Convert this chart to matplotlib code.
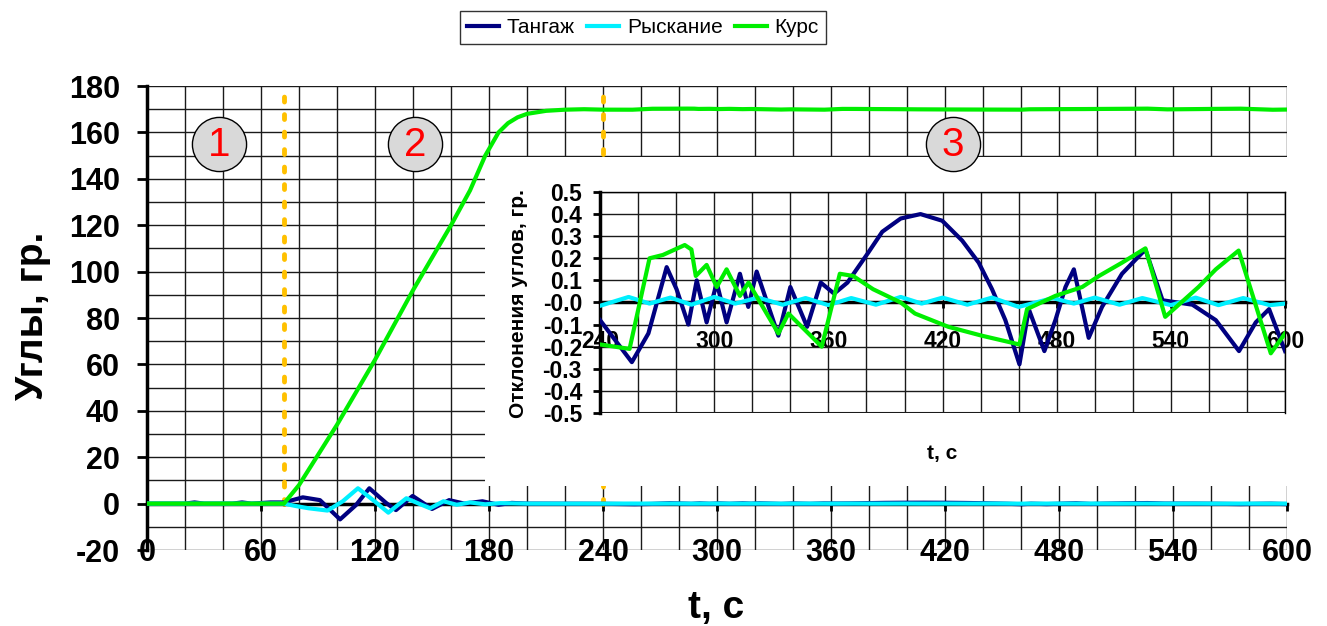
import numpy as np
import matplotlib
matplotlib.use("Agg")
import matplotlib.pyplot as plt
import matplotlib.ticker as mtick
from matplotlib.patches import Rectangle

plt.rcParams["font.family"] = ["Liberation Sans", "DejaVu Sans"]
plt.rcParams["axes.unicode_minus"] = False

#%% данные, участок 0-240 с (градусы)
t_pitch_main = [0, 20, 25, 30, 45, 50, 55, 65, 72, 82, 91, 101.6, 110, 117, 125.8, 131,
                139.8, 150, 159, 167, 176.5, 185, 192, 200, 240]
pitch_main = [0, 0, 0.5, 0, 0, 0.5, 0, 0.5, 0.5, 2.7, 1.5, -6.8, -0.6, 6.6, 0.3, -2.8,
              3.3, -2.3, 1.5, 0, 1, -0.5, 0.3, 0, 0]

t_yaw_main = [0, 72, 78, 85, 95, 103, 111, 119, 127, 136.5, 143, 149, 156, 163, 170,
              178, 186, 200, 240]
yaw_main = [0, 0, -1, -2, -3, 1, 6.6, 1.5, -3.9, 2.3, 0, -2, 1, -0.5, 0.5,
            -0.3, 0.2, 0, 0]

t_head_main = [0, 72, 80, 90, 100, 110, 120, 130, 140, 150, 160, 170, 178, 185, 190,
               195, 200, 210, 220, 230, 240]
head_main = [0, 0, 8, 21, 34, 48, 62, 77, 92, 106, 120, 135, 150, 160, 164,
             166.5, 168, 169.3, 169.8, 170, 170]
head_level = 170

#%% отклонения, участок 240-600 с
t_pitch_dev = [240, 256.7, 265.4, 275, 280.2, 286.4, 290.8, 296, 301.3, 306.5, 313.5,
               317.9, 322.3, 333.7, 340, 348.8, 356, 363, 370, 380.5, 388.3, 398,
               408.4, 419.8, 430.3, 439, 446, 453, 460.4, 465.3, 473.5, 479.3, 484.6,
               489, 496.8, 503.8, 514.3, 526.6, 535.6, 551.3, 563.6, 575.8, 584.6,
               591.6, 600]
pitch_dev = [-0.08, -0.27, -0.14, 0.16, 0.06, -0.10, 0.10, -0.09, 0.09, -0.09, 0.13,
             -0.02, 0.14, -0.15, 0.07, -0.11, 0.09, 0.04, 0.09, 0.22, 0.32, 0.38,
             0.40, 0.37, 0.28, 0.18, 0.06, -0.08, -0.28, -0.03, -0.22, -0.08, 0.07,
             0.15, -0.16, -0.02, 0.13, 0.24, 0.01, -0.01, -0.08, -0.22, -0.09,
             -0.03, -0.22]

t_yaw_dev = [240, 255, 266, 277, 288, 300, 311, 323, 336, 348, 360, 372, 385, 398,
             409, 420, 433, 446, 460, 478, 489, 500, 513, 525, 540, 553, 565, 578,
             592, 600]
yaw_dev = [-0.015, 0.025, -0.005, 0.022, -0.01, 0.025, -0.005, 0.022, -0.01, 0.02,
           -0.012, 0.02, -0.01, 0.025, -0.005, 0.022, -0.01, 0.022, -0.02, 0.02,
           -0.005, 0.022, -0.01, 0.02, -0.012, 0.022, -0.012, 0.02, -0.012, -0.005]

t_head_dev = [240, 255.5, 266, 273, 284.5, 288, 290.3, 296, 301.3, 306.5, 313.5, 318,
              333.7, 339, 356.5, 366, 373, 383.5, 398, 405.5, 423, 440.5, 460.4,
              464.4, 479.3, 493.4, 502.2, 514.3, 526.6, 537, 554.5, 563.6, 575.6,
              592.5, 600]
head_dev = [-0.19, -0.21, 0.20, 0.215, 0.26, 0.24, 0.12, 0.17, 0.07, 0.15, 0.03, 0.09,
            -0.14, -0.05, -0.20, 0.13, 0.12, 0.06, 0.0, -0.05, -0.11, -0.15, -0.19,
            -0.03, 0.03, 0.07, 0.12, 0.18, 0.245, -0.065, 0.07, 0.15, 0.235,
            -0.23, -0.14]

phase_bounds = [72, 240]
phase_labels = ["1", "2", "3"]
phase_t = [38, 141, 424]
phase_y = [155, 155, 155]

c_pitch = "#000080"
c_yaw = "#00F0FF"
c_head = "#00EE00"
c_phase = "#FFC000"

#%% основной график
fig = plt.figure(figsize = (13.27, 6.26), dpi = 100)
ax = fig.add_axes([0.1108, 0.1214, 0.8591, 0.7412])
ax.set_axisbelow(True)

pitch_full = np.r_[pitch_main[:-1], pitch_dev]
yaw_full = np.r_[yaw_main[:-1], yaw_dev]
head_full = np.r_[head_main[:-1], head_level + np.array(head_dev)]

l1, = ax.plot(np.r_[t_pitch_main[:-1], t_pitch_dev], pitch_full, color = c_pitch,
              lw = 3, zorder = 4, label = "Тангаж")
l2, = ax.plot(np.r_[t_yaw_main[:-1], t_yaw_dev], yaw_full, color = c_yaw,
              lw = 3, zorder = 4, label = "Рыскание")
l3, = ax.plot(np.r_[t_head_main[:-1], t_head_dev], head_full, color = c_head,
              lw = 3, zorder = 4, label = "Курс")

for tb in phase_bounds:
    ax.plot([tb, tb], [0, 180], color = c_phase, lw = 3.5, dashes = (1, 2.6),
            dash_capstyle = "round", zorder = 0.8)

# белая подложка под врезку
ax.add_patch(Rectangle((0.2965, 0.138), 0.71, 0.709, transform = ax.transAxes,
                       facecolor = "white", edgecolor = "none", zorder = 1,
                       clip_on = False))

for lab, tx, ty in zip(phase_labels, phase_t, phase_y):
    ax.plot(tx, ty, "o", ms = 39, mfc = "#D9D9D9", mec = "black", mew = 1,
            zorder = 5, clip_on = False)
    ax.text(tx, ty - 0.5, lab, color = "red", fontsize = 29, ha = "center",
            va = "center", zorder = 6)

ax.set_xlim(0, 600)
ax.set_ylim(-20, 180)
ax.set_xticks(range(0, 601, 60))
ax.xaxis.set_minor_locator(mtick.MultipleLocator(20))
ax.set_yticks(range(-20, 181, 20))
ax.yaxis.set_minor_locator(mtick.MultipleLocator(10))
ax.grid(which = "both", color = "#1a1a1a", lw = 1.0)

ax.spines["bottom"].set_position(("data", 0))
ax.spines["bottom"].set_linewidth(2.5)
ax.spines["left"].set_linewidth(2.5)
ax.spines["top"].set_visible(False)
ax.spines["right"].set_visible(False)
ax.tick_params(axis = "x", which = "major", direction = "out", length = 5, width = 2,
               pad = 20, labelsize = 22)
ax.tick_params(axis = "y", which = "major", direction = "out", length = 7.5, width = 2,
               pad = 12, labelsize = 22)
ax.tick_params(which = "minor", length = 0)
for lb in ax.get_xticklabels() + ax.get_yticklabels():
    lb.set_fontweight("bold")

fig.text(33 / 1327, 0.495, "Углы, гр.", rotation = 90, ha = "center", va = "center",
         fontsize = 28, fontweight = "bold")
fig.text(716 / 1327, 0.029, "t, c", ha = "center", va = "center", fontsize = 28,
         fontweight = "bold")

#%% врезка с отклонениями
axi = fig.add_axes([0.4522, 0.3403, 0.5162, 0.3530])
axi.set_zorder(3)
axi.set_axisbelow(True)
axi.plot(t_pitch_dev, pitch_dev, color = c_pitch, lw = 3, zorder = 4)
axi.plot(t_yaw_dev, yaw_dev, color = c_yaw, lw = 3, zorder = 4)
axi.plot(t_head_dev, head_dev, color = c_head, lw = 3, zorder = 4)

axi.set_xlim(240, 600)
axi.set_ylim(-0.5, 0.5)
axi.set_xticks(range(240, 601, 60))
axi.xaxis.set_minor_locator(mtick.MultipleLocator(20))
axi.set_yticks(np.round(np.arange(-0.5, 0.51, 0.1), 1))
axi.yaxis.set_major_formatter(mtick.FormatStrFormatter("%.1f"))
axi.grid(which = "both", color = "#1a1a1a", lw = 1.0)

axi.spines["bottom"].set_position(("data", 0))
axi.spines["bottom"].set_linewidth(2.5)
axi.spines["left"].set_linewidth(2.5)
axi.spines["top"].set_linewidth(1)
axi.spines["right"].set_linewidth(1)
axi.axhline(-0.5, color = "#1a1a1a", lw = 1.5, zorder = 1)
axi.tick_params(axis = "x", which = "major", direction = "out", length = 4, width = 2,
                pad = 16, labelsize = 16.5)
axi.tick_params(axis = "y", which = "major", direction = "out", length = 5, width = 2,
                pad = 8, labelsize = 16.5)
axi.tick_params(which = "minor", length = 0)
for lb in axi.get_xticklabels() + axi.get_yticklabels():
    lb.set_fontweight("bold")

fig.text(518 / 1327, 0.515, "Отклонения углов, гр.", rotation = 90, ha = "center",
         va = "center", fontsize = 15, fontweight = "bold")
fig.text(942 / 1327, 1 - 454 / 626, "t, c", ha = "center", va = "center",
         fontsize = 15, fontweight = "bold")

#%% легенда
leg = fig.legend(handles = [l1, l2, l3], loc = "center", bbox_to_anchor = (0.4845, 0.956),
                 ncol = 3, fontsize = 15, frameon = True, fancybox = False,
                 handlelength = 1.55, handletextpad = 0.35, columnspacing = 0.6,
                 borderpad = 0.35)
leg.get_frame().set_edgecolor("black")
leg.get_frame().set_linewidth(1)

fig.savefig("out.png", dpi = 100, facecolor = "w")
